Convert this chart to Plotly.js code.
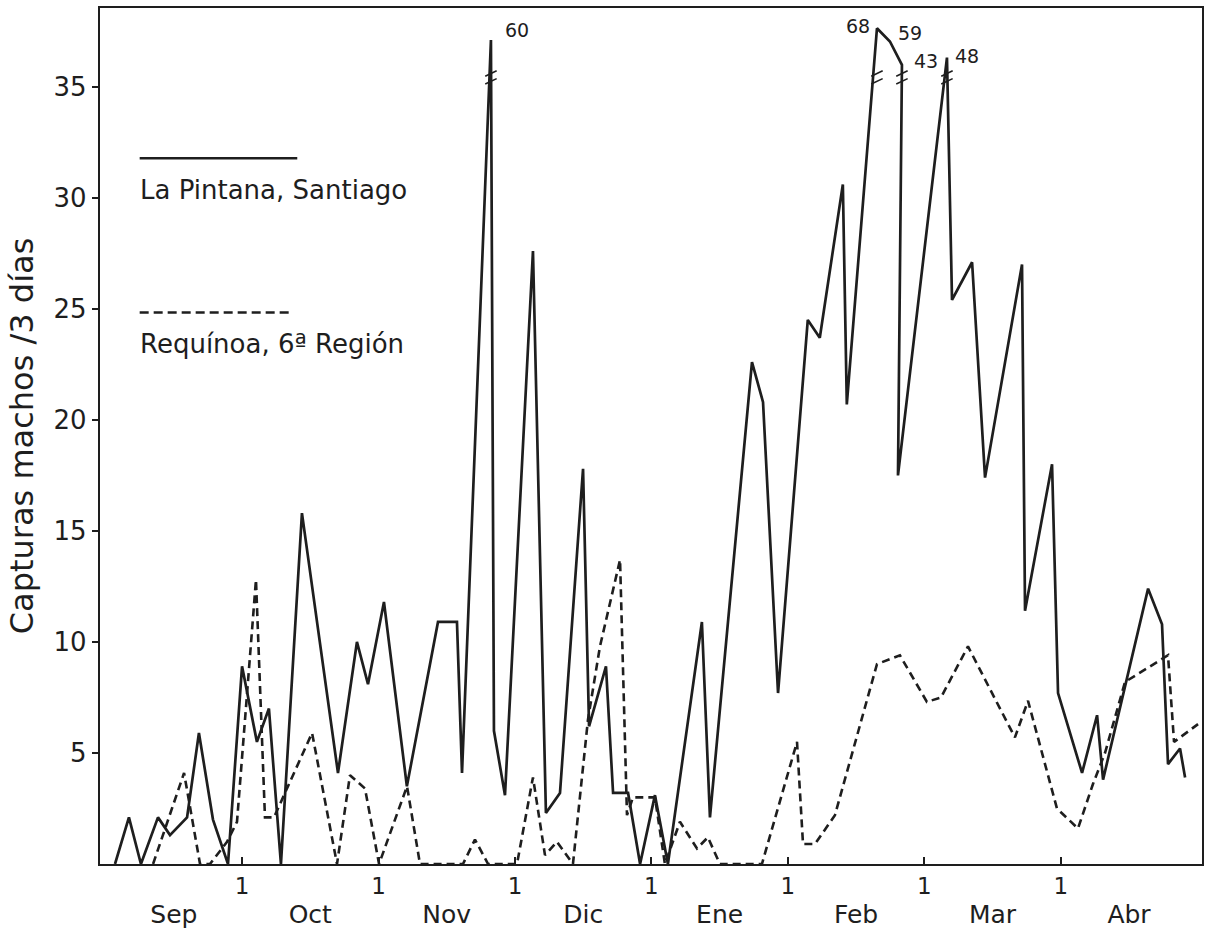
<!DOCTYPE html>
<html>
<head>
<meta charset="utf-8">
<script src="https://cdn.plot.ly/plotly-3.0.1.min.js"></script>
<style>
  html, body { margin: 0; padding: 0; background: #ffffff; }
  #chart { width: 1224px; height: 933px; }
</style>
</head>
<body>
<div id="chart"></div>
<script>
// x = months since 1 September (1 = 1 Oct, 2 = 1 Nov, ...)
const monthNames = ['Sep', 'Oct', 'Nov', 'Dic', 'Ene', 'Feb', 'Mar', 'Abr'];
const monthStartTicks = [1, 2, 3, 4, 5, 6, 7];
const monthStartText = ['1', '1', '1', '1', '1', '1', '1'];
const yTicks = [5, 10, 15, 20, 25, 30, 35];

const seriesNames = ['La Pintana, Santiago', 'Requínoa, 6ª Región'];

// La Pintana, Santiago (solid line)
const pintanaX = [0.069, 0.171, 0.259, 0.384, 0.472, 0.597, 0.684, 0.787, 0.897, 1.000,
  1.109, 1.197, 1.285, 1.439, 1.703, 1.842, 1.923, 2.040, 2.208, 2.436,
  2.575, 2.612, 2.824, 2.846, 2.927, 3.132, 3.227, 3.330, 3.499, 3.543,
  3.667, 3.719, 3.829, 3.917, 4.026, 4.121, 4.370, 4.429, 4.737, 4.818,
  4.928, 5.146, 5.234, 5.403, 5.432, 5.653, 5.748, 5.836, 5.807, 6.166,
  6.203, 6.350, 6.445, 6.716, 6.738, 6.936, 6.980, 7.156, 7.266, 7.310,
  7.640, 7.742, 7.786, 7.874, 7.911];
const pintanaY = [0, 2.1, 0, 2.1, 1.3, 2.1, 5.9, 2.0, 0, 8.9,
  5.5, 7.0, 0, 15.8, 4.1, 10.0, 8.1, 11.8, 3.5, 10.9,
  10.9, 4.1, 60, 6.0, 3.1, 27.6, 2.3, 3.2, 17.8, 6.2,
  8.9, 3.2, 3.2, 0, 3.1, 0, 10.9, 2.1, 22.6, 20.8,
  7.7, 24.5, 23.7, 30.6, 20.7, 68, 59, 43, 17.5, 48,
  25.4, 27.1, 17.4, 27.0, 11.4, 18.0, 7.7, 4.1, 6.7, 3.8,
  12.4, 10.8, 4.5, 5.2, 3.9];

// Requínoa, 6ª Región (dashed line)
const requinoaX = [0.348, 0.575, 0.692, 0.765, 0.890, 0.963, 1.102, 1.168, 1.234, 1.330,
  1.513, 1.696, 1.791, 1.901, 2.004, 2.209, 2.304, 2.619, 2.707, 2.803,
  3.015, 3.132, 3.220, 3.308, 3.425, 3.535, 3.623, 3.770, 3.821, 3.865,
  4.026, 4.099, 4.209, 4.334, 4.414, 4.502, 4.810, 5.067, 5.111, 5.199,
  5.345, 5.653, 5.821, 6.019, 6.122, 6.320, 6.664, 6.760, 6.972, 7.126,
  7.236, 7.324, 7.471, 7.786, 7.830, 8.006];
const requinoaY = [0, 4.1, 0, 0, 1.0, 1.9, 12.8, 2.1, 2.1, 3.4,
  5.9, 0, 4.0, 3.4, 0, 3.5, 0, 0, 1.1, 0,
  0, 3.9, 0.4, 1.0, 0, 6.5, 9.8, 13.7, 2.2, 3.0,
  3.0, 0, 1.9, 0.7, 1.2, 0, 0, 5.5, 0.9, 0.9,
  2.2, 9.0, 9.4, 7.3, 7.5, 9.8, 5.7, 7.35, 2.5, 1.6,
  3.6, 5.0, 8.2, 9.4, 5.5, 6.3];

// broken axis: values above the break are drawn compressed near the top
const BREAK_AT = 36;
function brk(v) { return v <= BREAK_AT ? v : 33.15 + 0.066 * v; }

const ink = '#1e1e1e';
const FONT = 'DejaVu Sans';

const pintanaShown = pintanaY.map(brk);

// off-scale points: labels and break marks
const high = [];
pintanaY.forEach((v, i) => { if (v > BREAK_AT) high.push(i); });
const labelStyle = [
  {xs: 12, ys: 10, anchor: 'left'},
  {xs: -5, ys: 2, anchor: 'right'},
  {xs: 6, ys: 8, anchor: 'left'},
  {xs: 10, ys: 4, anchor: 'left'},
  {xs: 6, ys: 2, anchor: 'left'}
];
const annotations = high.map((i, k) => ({
  x: pintanaX[i], y: pintanaShown[i], xref: 'x', yref: 'y',
  text: String(pintanaY[i]), showarrow: false,
  xanchor: labelStyle[k].anchor, yanchor: 'middle',
  xshift: labelStyle[k].xs, yshift: labelStyle[k].ys,
  font: {family: FONT, size: 19, color: ink}
}));
// break marks on lines that come from / go to an on-scale value
const breakX = [], breakY = [];
high.forEach(i => {
  const prevLow = i > 0 && pintanaY[i - 1] <= BREAK_AT;
  const nextLow = i < pintanaY.length - 1 && pintanaY[i + 1] <= BREAK_AT;
  if (prevLow || nextLow) {
    breakX.push(pintanaX[i], pintanaX[i]);
    breakY.push(35.25, 35.6);
  }
});

// legend drawn like the original (line sample above the text)
annotations.push(
  {xref: 'paper', yref: 'paper', x: 0.0345, y: 0.787, xanchor: 'left', yanchor: 'middle',
   text: seriesNames[0], showarrow: false, font: {family: FONT, size: 26, color: ink}},
  {xref: 'paper', yref: 'paper', x: 0.0345, y: 0.608, xanchor: 'left', yanchor: 'middle',
   text: seriesNames[1], showarrow: false, font: {family: FONT, size: 26, color: ink}}
);
const shapes = [
  {type: 'line', xref: 'paper', yref: 'paper', x0: 0.036, x1: 0.179, y0: 0.8246, y1: 0.8246,
   line: {color: ink, width: 2.5}},
  {type: 'line', xref: 'paper', yref: 'paper', x0: 0.036, x1: 0.175, y0: 0.6444, y1: 0.6444,
   line: {color: ink, width: 2.5, dash: '9px,5px'}}
];

const traces = [
  {x: pintanaX, y: pintanaShown, name: seriesNames[0], type: 'scatter', mode: 'lines',
   line: {color: ink, width: 2.7}, showlegend: false, hoverinfo: 'skip'},
  {x: requinoaX, y: requinoaY, name: seriesNames[1], type: 'scatter', mode: 'lines',
   line: {color: ink, width: 2.6, dash: '8px,5px'}, showlegend: false, hoverinfo: 'skip'},
  {x: breakX, y: breakY, type: 'scatter', mode: 'markers', showlegend: false, hoverinfo: 'skip',
   marker: {symbol: 'line-ew', size: 9, angle: -25, color: ink, line: {color: ink, width: 1.6}}},
  {x: monthNames.map((m, i) => i + 0.5), y: monthNames.map(() => null), xaxis: 'x2',
   type: 'scatter', mode: 'lines', showlegend: false, hoverinfo: 'skip'}
];

const xRange = [-0.041, 8.035];
const layout = {
  width: 1224, height: 933,
  margin: {l: 100, r: 22, t: 8, b: 69},
  paper_bgcolor: '#ffffff', plot_bgcolor: '#ffffff',
  showlegend: false,
  font: {family: FONT, color: ink},
  xaxis: {
    range: xRange, tickvals: monthStartTicks, ticktext: monthStartText,
    ticks: 'inside', ticklen: 7, tickwidth: 2, tickcolor: ink,
    showline: true, mirror: true, linewidth: 2.2, linecolor: ink,
    showgrid: false, zeroline: false,
    tickfont: {family: FONT, size: 23, color: ink}
  },
  xaxis2: {
    overlaying: 'x', anchor: 'y', side: 'bottom', range: xRange,
    tickvals: monthNames.map((m, i) => i + 0.5), ticktext: monthNames,
    ticks: '', showline: false, showgrid: false, zeroline: false,
    ticklabelstandoff: 33,
    tickfont: {family: FONT, size: 25, color: ink}
  },
  yaxis: {
    range: [0, 38.55], tickvals: yTicks,
    ticks: 'outside', ticklen: 6, tickwidth: 2, tickcolor: ink,
    showline: true, mirror: true, linewidth: 2.2, linecolor: ink,
    showgrid: false, zeroline: false,
    tickfont: {family: FONT, size: 26, color: ink},
    title: {text: 'Capturas machos /3 días', standoff: 10,
            font: {family: FONT, size: 32, color: ink}}
  },
  annotations: annotations,
  shapes: shapes
};

Plotly.newPlot('chart', traces, layout, {staticPlot: true, displayModeBar: false});
</script>
</body>
</html>
